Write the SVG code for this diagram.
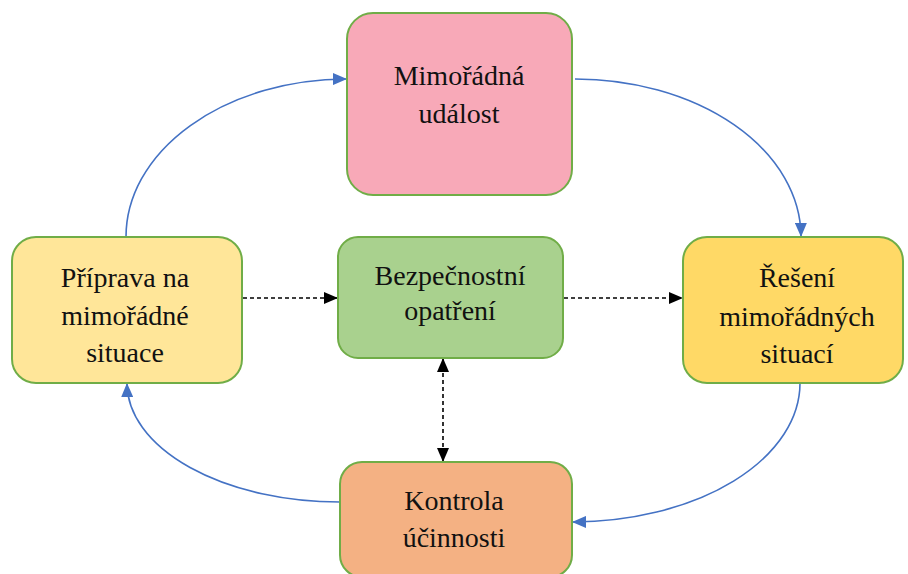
<svg xmlns="http://www.w3.org/2000/svg" width="908" height="574" viewBox="0 0 908 574">
<style>
.node rect{stroke:#70AD47;stroke-width:2}
.node text{font-family:'Liberation Serif',serif;font-size:28px;fill:#111;text-anchor:middle}
.cyc{fill:none;stroke:#4472C4;stroke-width:1.6}
.dash{fill:none;stroke:#000;stroke-width:1.6;stroke-dasharray:4 3}
</style>
<defs>
<marker id="ab" viewBox="0 0 14 12" refX="13" refY="6" markerWidth="14" markerHeight="12" markerUnits="userSpaceOnUse" orient="auto"><path d="M0,0 L14,6 L0,12 Z" fill="#4472C4"/></marker>
<marker id="ak" viewBox="0 0 14 12" refX="13" refY="6" markerWidth="14" markerHeight="12" markerUnits="userSpaceOnUse" orient="auto-start-reverse"><path d="M0,0 L14,6 L0,12 Z" fill="#000"/></marker>
</defs>
<rect width="908" height="574" fill="#fff"/>
<g id="connectors">
<path class="cyc" d="M126,237 A221,158 0 0 1 346,79" marker-end="url(#ab)"/>
<path class="cyc" d="M575,79 A226,158 0 0 1 801,236" marker-end="url(#ab)"/>
<path class="cyc" d="M800,383 A228,139 0 0 1 573,522" marker-end="url(#ab)"/>
<path class="cyc" d="M340,502 A213,119 0 0 1 127,384" marker-end="url(#ab)"/>
<path class="dash" d="M243,298 L337,298" marker-end="url(#ak)"/>
<path class="dash" d="M564,298 L682,298" marker-end="url(#ak)"/>
<path class="dash" d="M443,359 L443,461" marker-start="url(#ak)" marker-end="url(#ak)"/>
</g>
<g id="n-udalost" class="node">
<rect x="347" y="13" width="225" height="182" rx="26" fill="#F8A9B8"/>
<text x="459" y="85" font-family="Liberation Serif, serif">Mimořádná</text>
<text x="459" y="123" font-family="Liberation Serif, serif">událost</text>
</g>
<g id="n-priprava" class="node">
<rect x="12" y="237" width="230" height="146" rx="24" fill="#FFE699"/>
<text x="125" y="287" font-family="Liberation Serif, serif">Příprava na</text>
<text x="125" y="325" font-family="Liberation Serif, serif">mimořádné</text>
<text x="125" y="362" font-family="Liberation Serif, serif">situace</text>
</g>
<g id="n-bezpecnost" class="node">
<rect x="338" y="237" width="225" height="121" rx="20" fill="#A9D18E"/>
<text x="450" y="285" font-family="Liberation Serif, serif">Bezpečnostní</text>
<text x="450" y="320" font-family="Liberation Serif, serif">opatření</text>
</g>
<g id="n-reseni" class="node">
<rect x="683" y="237" width="220" height="146" rx="24" fill="#FFD966"/>
<text x="797" y="287" font-family="Liberation Serif, serif">Řešení</text>
<text x="797" y="326" font-family="Liberation Serif, serif">mimořádných</text>
<text x="797" y="363" font-family="Liberation Serif, serif">situací</text>
</g>
<g id="n-kontrola" class="node">
<rect x="340" y="462" width="232" height="115" rx="22" fill="#F4B183"/>
<text x="454" y="510" font-family="Liberation Serif, serif">Kontrola</text>
<text x="454" y="547" font-family="Liberation Serif, serif">účinnosti</text>
</g>
</svg>
